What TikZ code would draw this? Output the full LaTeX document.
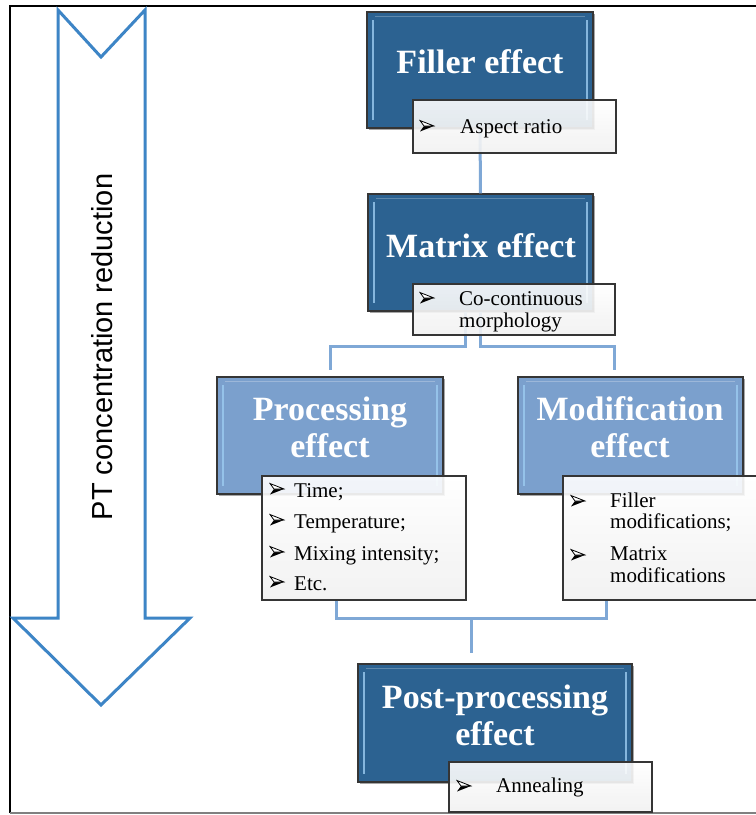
\documentclass[tikz,border=0pt]{standalone}
\usepackage{fontspec}
\setmainfont{Liberation Serif}
\newfontfamily\textserif{Liberation Serif}
\newfontfamily\arrowfont{Liberation Sans}
\usetikzlibrary{shadows}

\definecolor{darkfill}{HTML}{2C6291}
\definecolor{lightfill}{HTML}{7BA0CD}
\definecolor{bevelcol}{HTML}{9CCBF0}
\definecolor{boxedge}{HTML}{353535}
\definecolor{linkblue}{HTML}{7FA8D6}
\definecolor{arrowblue}{HTML}{3D85C6}
\definecolor{listlow}{HTML}{F1F1F1}

\tikzset{
  effectbox/.style={draw=boxedge, line width=1.3pt, inner sep=0pt,
    drop shadow={shadow xshift=2pt, shadow yshift=-2pt, opacity=0.35, fill=black},
    path picture={
      \draw[bevelcol, line width=2.6pt, opacity=0.8]
        ([xshift=6pt,yshift=-8pt]path picture bounding box.north west) --
        ([xshift=6pt,yshift=8pt]path picture bounding box.south west);
      \draw[bevelcol, line width=2.6pt, opacity=0.8]
        ([xshift=-6pt,yshift=-8pt]path picture bounding box.north east) --
        ([xshift=-6pt,yshift=8pt]path picture bounding box.south east);
      \draw[white, line width=1pt, opacity=0.25]
        ([xshift=8pt,yshift=-4pt]path picture bounding box.north west) --
        ([xshift=-8pt,yshift=-4pt]path picture bounding box.north east);
    }},
  darkbox/.style={effectbox, fill=darkfill},
  lightbox/.style={effectbox, fill=lightfill},
  listbox/.style={draw=boxedge, line width=1.3pt, inner sep=0pt,
    top color=white, bottom color=listlow, fill opacity=0.9, text opacity=1},
  titletext/.style={anchor=base, inner sep=0pt, text=white,
    font=\textserif\fontsize{34}{37}\selectfont\bfseries},
  itemtext/.style={anchor=base west, inner sep=0pt,
    font=\textserif\fontsize{21}{23}\selectfont},
  % three-dimensional arrowhead bullet: light upper facet, black lower facet
  bullet/.style={inner sep=0pt, minimum width=16pt, minimum height=13pt,
    path picture={
      \coordinate (bt) at ([xshift=-1pt]path picture bounding box.east);
      \coordinate (bnw) at ([xshift=1pt,yshift=-1pt]path picture bounding box.north west);
      \coordinate (bsw) at ([xshift=1pt,yshift=1pt]path picture bounding box.south west);
      \coordinate (bn) at ([xshift=5pt]path picture bounding box.west);
      \fill[black] (bn) -- (bt) -- (bsw) -- cycle;
      \draw[black, line width=0.8pt, fill=white, line join=miter] (bnw) -- (bt) -- (bn) -- cycle;
    }},
  link/.style={draw=linkblue, line width=3pt},
  trendline/.style={draw=arrowblue, line width=3pt, line join=miter}
}

\begin{document}
\begin{tikzpicture}[x=1pt, y=-1pt]
\useasboundingbox (0,0) rectangle (756,815);
\clip (0,0) rectangle (756,815);
\fill[white] (0,0) rectangle (756,815);

% outer frame
\draw[black, line width=2.5pt] (10,813) -- (10,6) -- (760,6);
\draw[gray, line width=1.5pt] (10,813) -- (760,813);

% downward trend arrow with its caption
\draw[trendline] (58,10) -- (101,57) -- (145,10) -- (145,618) -- (190,618)
  -- (101,705) -- (13,618) -- (58,618) -- cycle;
\node[rotate=90, inner sep=0pt, font=\arrowfont\fontsize{29}{30}\selectfont]
  (trend) at (102,347) {PT concentration reduction};

% junction points of the connectors
\coordinate (splitL) at (330,346);
\coordinate (splitR) at (614,346);
\coordinate (procIn) at (330,370);
\coordinate (modIn) at (614,370);
\coordinate (joinB) at (471,618);
\coordinate (postIn) at (471,653);

% effect boxes
\node[darkbox, minimum width=226, minimum height=116] (filler) at (480,70) {};
\node[darkbox, minimum width=225, minimum height=117] (matrix) at (480.5,252.5) {};
\node[lightbox, minimum width=226, minimum height=117] (proc) at (330,435.5) {};
\node[lightbox, minimum width=225, minimum height=117] (modif) at (630.5,435.5) {};
\node[darkbox, minimum width=274, minimum height=118] (post) at (495,723) {};

% connectors from the upper boxes
\draw[link] (filler.south) -- (matrix.north);
\draw[link] ([xshift=-15pt]matrix.south) -- ([xshift=-15pt]matrix.south |- splitL)
  -- (splitL) -- (procIn);
\draw[link] (matrix.south) -- (matrix.south |- splitR) -- (splitR) -- (modIn);

% titles
\node[titletext] (fillerT) at (480,73) {Filler effect};
\node[titletext] (matrixT) at (481,257) {Matrix effect};
\node[titletext] (procT1) at (330,420) {Processing};
\node[titletext] (procT2) at (330,457) {effect};
\node[titletext] (modifT1) at (630,420) {Modification};
\node[titletext] (modifT2) at (630,457) {effect};
\node[titletext] (postT1) at (495,708) {Post-processing};
\node[titletext] (postT2) at (495,745) {effect};

% detail lists
\node[listbox, minimum width=203, minimum height=53] (aspect) at (514.5,126.5) {};
\node[listbox, minimum width=202, minimum height=51] (cocont) at (514,309.5) {};
\node[listbox, minimum width=204, minimum height=124] (proclist) at (364,538) {};
\node[listbox, minimum width=215, minimum height=124] (modlist) at (670.5,538) {};
\node[listbox, minimum width=203, minimum height=50] (anneal) at (550.5,787) {};

% connectors joining the middle row to the last box
\draw[link] ([xshift=-28pt]proclist.south) |- (joinB) -| ([xshift=-64.5pt]modlist.south);
\draw[link] (joinB) -- (postIn);

% list entries
\node[bullet] (b1) at (427,126) {};
\node[itemtext] (t1) at (460,133) {Aspect ratio};

\node[bullet] (b2) at (427,298) {};
\node[itemtext] (t2a) at (459,305) {Co-continuous};
\node[itemtext] (t2b) at (459,327) {morphology};

\node[bullet] (b3) at (277,489) {};
\node[itemtext] (t3) at (294,497) {Time;};
\node[bullet] (b4) at (277,520) {};
\node[itemtext] (t4) at (294,528) {Temperature;};
\node[bullet] (b5) at (277,552) {};
\node[itemtext] (t5) at (294,560) {Mixing intensity;};
\node[bullet] (b6) at (277,582) {};
\node[itemtext] (t6) at (294,590) {Etc.};

\node[bullet] (b7) at (578,501) {};
\node[itemtext] (t7a) at (610,507) {Filler};
\node[itemtext] (t7b) at (610,528) {modifications;};
\node[bullet] (b8) at (578,555) {};
\node[itemtext] (t8a) at (610,560) {Matrix};
\node[itemtext] (t8b) at (610,582) {modifications};

\node[bullet] (b9) at (464,786) {};
\node[itemtext] (t9) at (496,792) {Annealing};
\end{tikzpicture}
\end{document}
